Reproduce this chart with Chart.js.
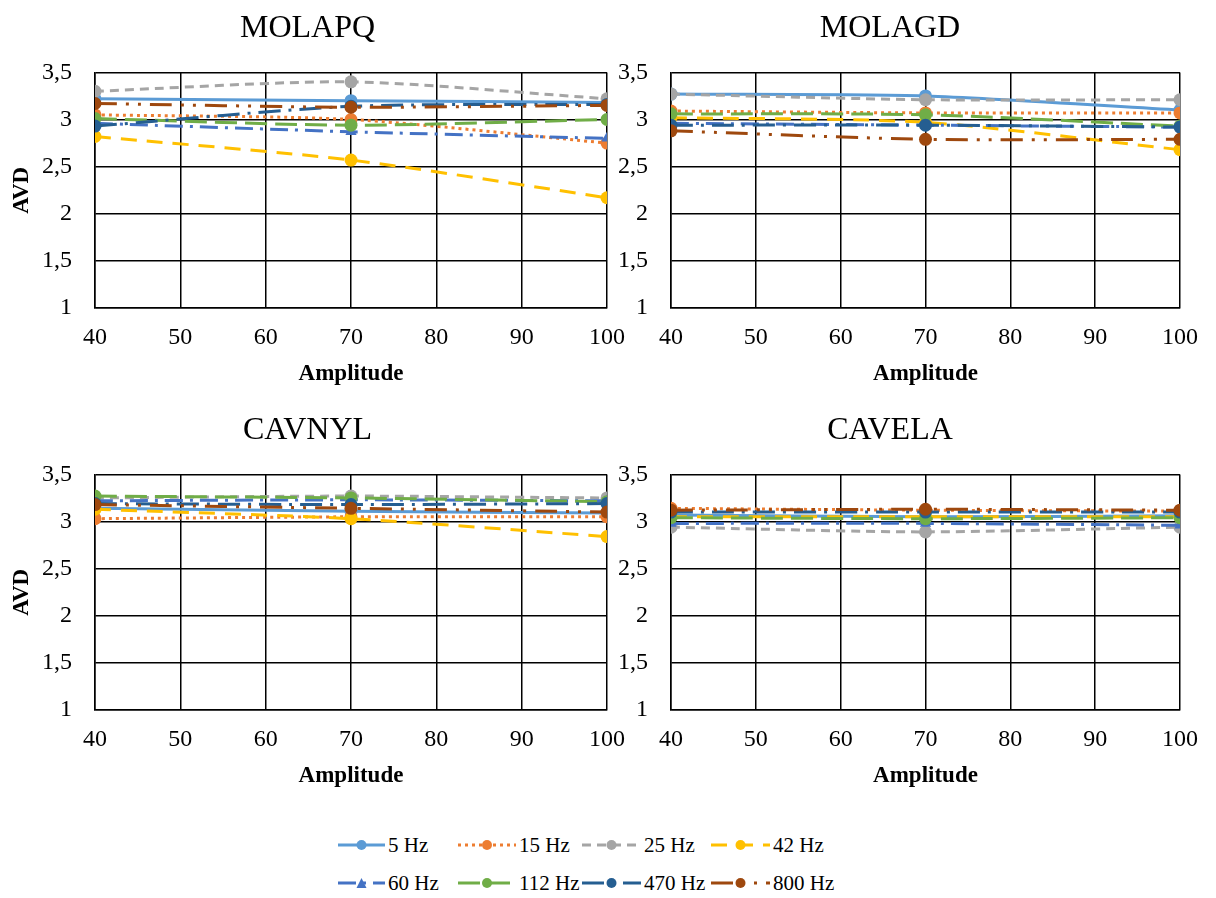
<!DOCTYPE html>
<html>
<head>
<meta charset="utf-8">
<script src="https://cdn.jsdelivr.net/npm/chart.js@4.4.1/dist/chart.umd.min.js"></script>
<style>
  body { margin: 0; background: #fff; width: 1216px; height: 898px; overflow: hidden; position: relative; font-family: "Liberation Serif", serif; }
  canvas { position: absolute; }
  .item { position: absolute; height: 24px; font-size: 21px; line-height: 24px; color: #000; white-space: nowrap; }
  .item svg { position: absolute; top: 0; }
</style>
</head>
<body>
<canvas id="grafico1" width="640" height="400" style="left:0;top:0"></canvas>
<canvas id="grafico2" width="616" height="400" style="left:600px;top:0"></canvas>
<canvas id="grafico3" width="640" height="400" style="left:0;top:402px"></canvas>
<canvas id="grafico4" width="616" height="400" style="left:600px;top:402px"></canvas>
<div id="legenda"></div>

<script>
// eixo x (amplitude) e as series (frequencias)
var amplitudes = [40, 70, 100];
var series = ['5 Hz', '15 Hz', '25 Hz', '42 Hz', '60 Hz', '112 Hz', '470 Hz', '800 Hz'];
var cores = ['#5B9BD5', '#ED7D31', '#A5A5A5', '#FFC000', '#4472C4', '#70AD47', '#255E91', '#9E480E'];
var tracos = [[], [3, 4], [9, 6], [16, 10], [18, 7, 3, 7], [22, 8], [22, 8, 3, 8], [22, 9, 3, 9, 3, 9]];
var marcadores = ['circle', 'circle', 'circle', 'circle', 'triangle', 'circle', 'circle', 'circle'];
var ticksY = [1, 1.5, 2, 2.5, 3, 3.5];

// AVD por serie (linhas na ordem de "series"), valores em 40, 70, 100
var molapq = [
  [3.22, 3.20, 3.18], // 5 Hz
  [3.05, 3.00, 2.75], // 15 Hz
  [3.30, 3.40, 3.22], // 25 Hz
  [2.82, 2.57, 2.17], // 42 Hz
  [2.96, 2.87, 2.80], // 60 Hz
  [3.01, 2.94, 3.00], // 112 Hz
  [2.93, 3.14, 3.16], // 470 Hz
  [3.17, 3.13, 3.15]  // 800 Hz
];
var molagd = [
  [3.27, 3.25, 3.10],
  [3.09, 3.07, 3.07],
  [3.27, 3.21, 3.21],
  [3.02, 2.97, 2.68],
  [2.96, 2.94, 2.92],
  [3.06, 3.05, 2.93],
  [2.94, 2.94, 2.92],
  [2.88, 2.79, 2.79]
];
var cavnyl = [
  [3.14, 3.11, 3.09],
  [3.03, 3.05, 3.05],
  [3.25, 3.27, 3.25],
  [3.13, 3.03, 2.84],
  [3.22, 3.23, 3.22],
  [3.27, 3.25, 3.21],
  [3.19, 3.18, 3.19],
  [3.18, 3.14, 3.10]
];
var cavela = [
  [3.07, 3.05, 3.06],
  [3.14, 3.12, 3.11],
  [2.94, 2.89, 2.94],
  [3.05, 3.05, 3.05],
  [2.98, 2.98, 2.96],
  [3.04, 3.03, 3.04],
  [3.10, 3.10, 3.10],
  [3.12, 3.13, 3.12]
];

var fonte = 'Liberation Serif';

function criarGrafico(id, titulo, valores, mostrarAVD, padEsq, larguraY, padDir) {
  var datasets = [];
  for (var i = 0; i < series.length; i++) {
    var pontos = [];
    for (var j = 0; j < amplitudes.length; j++) {
      pontos.push({ x: amplitudes[j], y: valores[i][j] });
    }
    datasets.push({
      label: series[i],
      data: pontos,
      borderColor: cores[i],
      backgroundColor: cores[i],
      borderWidth: 3,
      borderDash: tracos[i],
      pointStyle: marcadores[i],
      pointRadius: 6.5,
      pointBorderWidth: 0,
      tension: 0.25,
      order: series.length - 1 - i   // 800 Hz desenhado por cima, como no excel
    });
  }

  return new Chart(document.getElementById(id), {
    type: 'line',
    data: { datasets: datasets },
    options: {
      responsive: false,
      animation: false,
      layout: { padding: { left: padEsq, right: padDir, top: 0, bottom: 0 } },
      plugins: {
        legend: { display: false },
        tooltip: { enabled: false },
        title: {
          display: true, text: titulo, color: '#000',
          font: { family: fonte, size: 32, weight: 'normal' },
          padding: { top: 9, bottom: 25 }
        }
      },
      scales: {
        x: {
          type: 'linear', min: 40, max: 100,
          ticks: { stepSize: 10, color: '#000', font: { family: fonte, size: 24 }, padding: 15, maxRotation: 0 },
          grid: { color: '#000', lineWidth: 1.5, drawTicks: false },
          border: { color: '#000', width: 1.5 },
          title: {
            display: true, text: 'Amplitude', color: '#000',
            font: { family: fonte, size: 23, weight: 'bold' },
            padding: { top: 12, bottom: 12 }
          },
          afterFit: function (s) { s.height = 92; }
        },
        y: {
          min: 1, max: 3.5,
          afterBuildTicks: function (s) { s.ticks = ticksY.map(function (v) { return { value: v }; }); },
          ticks: {
            color: '#000', font: { family: fonte, size: 24 }, padding: 23,
            callback: function (v) { return String(v).replace('.', ','); }
          },
          grid: { color: '#000', lineWidth: 1.5, drawTicks: false },
          border: { color: '#000', width: 1.5 },
          title: {
            display: mostrarAVD, text: 'AVD', color: '#000',
            font: { family: fonte, size: 23, weight: 'bold' },
            padding: { top: 0, bottom: 0 }
          },
          afterFit: function (s) { s.width = larguraY; }
        }
      }
    }
  });
}

criarGrafico('grafico1', 'MOLAPQ', molapq, true, 8, 87, 33);
criarGrafico('grafico2', 'MOLAGD', molagd, false, 0, 71, 36);
criarGrafico('grafico3', 'CAVNYL', cavnyl, true, 8, 87, 33);
criarGrafico('grafico4', 'CAVELA', cavela, false, 0, 71, 36);

// legenda em html, duas linhas de quatro
var colAmostra = [338, 458, 582, 711];
var colTexto = [388, 519, 644, 773];
var linhas = [845, 883];
var legenda = document.getElementById('legenda');
for (var k = 0; k < series.length; k++) {
  var col = k % 4;
  var lin = Math.floor(k / 4);
  var w = colTexto[col] - colAmostra[col] - 3;
  var item = document.createElement('div');
  item.className = 'item';
  item.style.left = colAmostra[col] + 'px';
  item.style.top = (linhas[lin] - 12) + 'px';
  var marca;
  if (marcadores[k] == 'triangle') {
    var cx = w / 2;
    marca = '<polygon points="' + (cx - 5) + ',17 ' + (cx + 5) + ',17 ' + cx + ',7" fill="' + cores[k] + '"/>';
  } else {
    marca = '<circle cx="' + (w / 2) + '" cy="12" r="5" fill="' + cores[k] + '"/>';
  }
  item.innerHTML =
    '<svg width="' + w + '" height="24"><line x1="0" y1="12" x2="' + w + '" y2="12" stroke="' + cores[k] +
    '" stroke-width="3" stroke-dasharray="' + (tracos[k].length ? tracos[k].join(',') : 'none') + '"/>' + marca + '</svg>' +
    '<span style="position:absolute;left:' + (w + 3) + 'px;top:0">' + series[k] + '</span>';
  legenda.appendChild(item);
}
</script>
</body>
</html>
